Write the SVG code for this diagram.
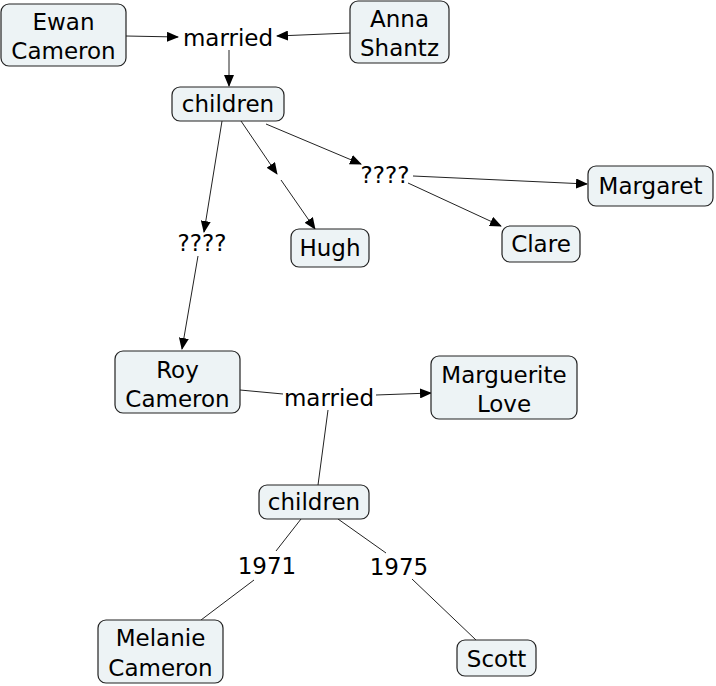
<svg xmlns="http://www.w3.org/2000/svg" width="716" height="686" viewBox="0 0 716 686">
<defs>
<marker id="arr" markerUnits="userSpaceOnUse" markerWidth="12" markerHeight="10" refX="11" refY="5" orient="auto">
<path d="M0,0 L12,5 L0,10 Z" fill="#000"/>
</marker>
<style>
.box{fill:#edf3f5;stroke:#222;stroke-width:1.2}
.t{font-family:"DejaVu Sans",Verdana,sans-serif;font-size:23px;fill:#000;text-anchor:middle}
.e{stroke:#222;stroke-width:1;fill:none}
.a{marker-end:url(#arr)}
</style>
</defs>
<rect width="716" height="686" fill="#fff"/>
<g id="connectors">
<line class="e a" x1="126" y1="36" x2="178" y2="37"/>
<line class="e a" x1="350" y1="33" x2="277" y2="36"/>
<line class="e a" x1="229" y1="50" x2="229" y2="86"/>
<line class="e a" x1="222" y1="121" x2="204" y2="232"/>
<line class="e a" x1="198" y1="256" x2="182" y2="349"/>
<line class="e a" x1="241" y1="121" x2="277" y2="174"/>
<line class="e a" x1="281" y1="180" x2="315" y2="229"/>
<line class="e a" x1="266" y1="124" x2="361" y2="164"/>
<line class="e a" x1="413" y1="176" x2="587" y2="184"/>
<line class="e a" x1="408" y1="183" x2="501" y2="226"/>
<line class="e" x1="240" y1="390" x2="283" y2="394"/>
<line class="e a" x1="376" y1="395" x2="431" y2="393"/>
<line class="e" x1="328" y1="410" x2="318" y2="485"/>
<line class="e" x1="301" y1="519" x2="276" y2="551"/>
<line class="e" x1="254" y1="580" x2="201" y2="620"/>
<line class="e" x1="338" y1="519" x2="386" y2="553"/>
<line class="e" x1="412" y1="579" x2="476" y2="640"/>
</g>
<g id="ewan"><rect class="box" x="1" y="4" width="125" height="62" rx="8"/><text class="t" x="63.5" y="30">Ewan</text><text class="t" x="63.5" y="59">Cameron</text></g>
<g id="anna"><rect class="box" x="350" y="1" width="99" height="62" rx="8"/><text class="t" x="399.5" y="27">Anna</text><text class="t" x="399.5" y="56">Shantz</text></g>
<g id="married1"><text class="t" x="228" y="46">married</text></g>
<g id="children1"><rect class="box" x="172" y="87" width="112" height="34" rx="8"/><text class="t" x="228" y="112">children</text></g>
<g id="q1"><text class="t" x="202" y="251">????</text></g>
<g id="blank"></g>
<g id="hugh"><rect class="box" x="291" y="229" width="78" height="38" rx="8"/><text class="t" x="330" y="256">Hugh</text></g>
<g id="q2"><text class="t" x="385" y="183">????</text></g>
<g id="margaret"><rect class="box" x="588" y="166" width="125" height="40" rx="8"/><text class="t" x="650.5" y="194">Margaret</text></g>
<g id="clare"><rect class="box" x="502" y="226" width="78" height="36" rx="8"/><text class="t" x="541" y="252">Clare</text></g>
<g id="roy"><rect class="box" x="115" y="351" width="125" height="62" rx="8"/><text class="t" x="177.5" y="378">Roy</text><text class="t" x="177.5" y="407">Cameron</text></g>
<g id="married2"><text class="t" x="329" y="406">married</text></g>
<g id="marguerite"><rect class="box" x="431" y="356" width="146" height="63" rx="8"/><text class="t" x="504" y="383">Marguerite</text><text class="t" x="504" y="412">Love</text></g>
<g id="children2"><rect class="box" x="259" y="485" width="110" height="34" rx="8"/><text class="t" x="314" y="510">children</text></g>
<g id="y1971"><text class="t" x="267" y="574">1971</text></g>
<g id="y1975"><text class="t" x="399" y="575">1975</text></g>
<g id="melanie"><rect class="box" x="98" y="620" width="125" height="63" rx="8"/><text class="t" x="160.5" y="646">Melanie</text><text class="t" x="160.5" y="676">Cameron</text></g>
<g id="scott"><rect class="box" x="457" y="640" width="79" height="36" rx="8"/><text class="t" x="496.5" y="667">Scott</text></g>
</svg>
